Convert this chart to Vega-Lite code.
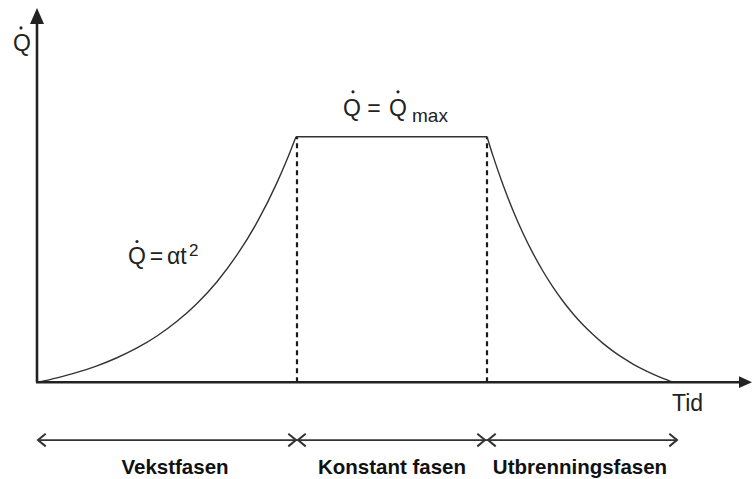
{
  "$schema": "https://vega.github.io/schema/vega-lite/v6.json",
  "width": 752,
  "height": 479,
  "autosize": {"type": "fit", "contains": "padding"},
  "padding": 0,
  "background": "white",
  "config": {"view": {"stroke": null}},
  "datasets": {
    "curve": [
      {"seg": "g", "t": 1, "q": 0}, {"seg": "g", "t": 20, "q": 4.4}, {"seg": "g", "t": 40, "q": 9.8},
      {"seg": "g", "t": 60, "q": 16.4}, {"seg": "g", "t": 80, "q": 24.5}, {"seg": "g", "t": 100, "q": 34.3},
      {"seg": "g", "t": 120, "q": 46.3}, {"seg": "g", "t": 140, "q": 61}, {"seg": "g", "t": 160, "q": 78.9},
      {"seg": "g", "t": 180, "q": 100.7}, {"seg": "g", "t": 200, "q": 127.5}, {"seg": "g", "t": 220, "q": 160.1},
      {"seg": "g", "t": 240, "q": 200}, {"seg": "g", "t": 250, "q": 223.1}, {"seg": "g", "t": 259, "q": 246},
      {"seg": "p", "t": 259, "q": 246}, {"seg": "p", "t": 450, "q": 246},
      {"seg": "d", "t": 450, "q": 246}, {"seg": "d", "t": 456, "q": 226.8}, {"seg": "d", "t": 466, "q": 197.9},
      {"seg": "d", "t": 476, "q": 172.1}, {"seg": "d", "t": 486, "q": 149.3}, {"seg": "d", "t": 496, "q": 129.1},
      {"seg": "d", "t": 506, "q": 111.2}, {"seg": "d", "t": 516, "q": 95.2}, {"seg": "d", "t": 526, "q": 81.1},
      {"seg": "d", "t": 536, "q": 68.6}, {"seg": "d", "t": 546, "q": 57.5}, {"seg": "d", "t": 556, "q": 47.7},
      {"seg": "d", "t": 566, "q": 38.9}, {"seg": "d", "t": 576, "q": 31.2}, {"seg": "d", "t": 586, "q": 24.3},
      {"seg": "d", "t": 596, "q": 18.2}, {"seg": "d", "t": 606, "q": 12.8}, {"seg": "d", "t": 616, "q": 8},
      {"seg": "d", "t": 626, "q": 3.8}, {"seg": "d", "t": 636, "q": 0}
    ],
    "axes": [
      {"t": 0, "q": 0, "t2": 0, "q2": 362},
      {"t": -1, "q": 0, "t2": 704, "q2": 0}
    ],
    "dashes": [
      {"t": 260, "q": 0, "t2": 260, "q2": 246},
      {"t": 450, "q": 0, "t2": 450, "q2": 246}
    ],
    "span": [
      {"t": 1, "q": -58, "t2": 640, "q2": -58}
    ],
    "upArrow": [{"t": 0, "q": 367}],
    "rightArrow": [{"t": 708.5, "q": 0}],
    "rightChev": [{"t": 259, "q": -58}, {"t": 448, "q": -58}, {"t": 640, "q": -58}],
    "leftChev": [{"t": 1, "q": -58}, {"t": 261, "q": -58}, {"t": 451, "q": -58}],
    "dots": [{"t": -16, "q": 355}, {"t": 316, "q": 291}, {"t": 361, "q": 291}, {"t": 100, "q": 141}],
    "centerText": [
      {"t": -15, "q": 332, "text": "Q"},
      {"t": 315, "q": 267, "text": "Q"},
      {"t": 337, "q": 267, "text": "="},
      {"t": 361, "q": 267, "text": "Q"},
      {"t": 100, "q": 118, "text": "Q"},
      {"t": 119.5, "q": 118, "text": "="}
    ],
    "leftText": [
      {"t": 130, "q": 118, "text": "αt"},
      {"t": 635, "q": -29, "text": "Tid"}
    ],
    "subText": [{"t": 375, "q": 261, "text": "max"}],
    "supText": [{"t": 152, "q": 126, "text": "2"}],
    "phases": [
      {"t": 138, "q": -92, "text": "Vekstfasen"},
      {"t": 355, "q": -92, "text": "Konstant fasen"},
      {"t": 543, "q": -92, "text": "Utbrenningsfasen"}
    ]
  },
  "encoding": {
    "x": {"field": "t", "type": "quantitative", "scale": {"domain": [-37, 715], "nice": false, "zero": false}, "axis": null},
    "y": {"field": "q", "type": "quantitative", "scale": {"domain": [-96, 383], "nice": false, "zero": false}, "axis": null}
  },
  "layer": [
    {
      "data": {"name": "dashes"},
      "mark": {"type": "rule", "color": "#1a1a1a", "strokeWidth": 2.2, "strokeDash": [5, 4]},
      "encoding": {"x2": {"field": "t2"}, "y2": {"field": "q2"}}
    },
    {
      "data": {"name": "curve"},
      "mark": {"type": "line", "interpolate": "monotone", "color": "#333", "strokeWidth": 1.4},
      "encoding": {"detail": {"field": "seg"}}
    },
    {
      "data": {"name": "axes"},
      "mark": {"type": "rule", "color": "#222", "strokeWidth": 2.6},
      "encoding": {"x2": {"field": "t2"}, "y2": {"field": "q2"}}
    },
    {
      "data": {"name": "span"},
      "mark": {"type": "rule", "color": "#333", "strokeWidth": 1.6},
      "encoding": {"x2": {"field": "t2"}, "y2": {"field": "q2"}}
    },
    {
      "data": {"name": "upArrow"},
      "mark": {"type": "point", "shape": "M0,-1L-0.875,1L0.875,1Z", "size": 256, "filled": true, "color": "#222", "opacity": 1}
    },
    {
      "data": {"name": "rightArrow"},
      "mark": {"type": "point", "shape": "M1,0L-1,-0.9L-1,0.9Z", "size": 169, "filled": true, "color": "#222", "opacity": 1}
    },
    {
      "data": {"name": "rightChev"},
      "mark": {"type": "point", "shape": "M-1.1,-0.9L0,0L-1.1,0.9", "size": 196, "filled": false, "color": "#333", "strokeWidth": 2, "opacity": 1}
    },
    {
      "data": {"name": "leftChev"},
      "mark": {"type": "point", "shape": "M1.1,-0.9L0,0L1.1,0.9", "size": 196, "filled": false, "color": "#333", "strokeWidth": 2, "opacity": 1}
    },
    {
      "data": {"name": "dots"},
      "mark": {"type": "point", "shape": "circle", "size": 10, "filled": true, "color": "#222", "opacity": 1}
    },
    {
      "data": {"name": "centerText"},
      "mark": {"type": "text", "font": "Liberation Sans", "fontSize": 23, "align": "center", "baseline": "alphabetic", "color": "#222"},
      "encoding": {"text": {"field": "text"}}
    },
    {
      "data": {"name": "leftText"},
      "mark": {"type": "text", "font": "Liberation Sans", "fontSize": 23, "align": "left", "baseline": "alphabetic", "color": "#222"},
      "encoding": {"text": {"field": "text"}}
    },
    {
      "data": {"name": "subText"},
      "mark": {"type": "text", "font": "Liberation Sans", "fontSize": 19, "align": "left", "baseline": "alphabetic", "color": "#222"},
      "encoding": {"text": {"field": "text"}}
    },
    {
      "data": {"name": "supText"},
      "mark": {"type": "text", "font": "Liberation Sans", "fontSize": 17, "align": "left", "baseline": "alphabetic", "color": "#222"},
      "encoding": {"text": {"field": "text"}}
    },
    {
      "data": {"name": "phases"},
      "mark": {"type": "text", "font": "Liberation Sans", "fontSize": 20.5, "fontWeight": "bold", "align": "center", "baseline": "alphabetic", "color": "#111"},
      "encoding": {"text": {"field": "text"}}
    }
  ]
}
